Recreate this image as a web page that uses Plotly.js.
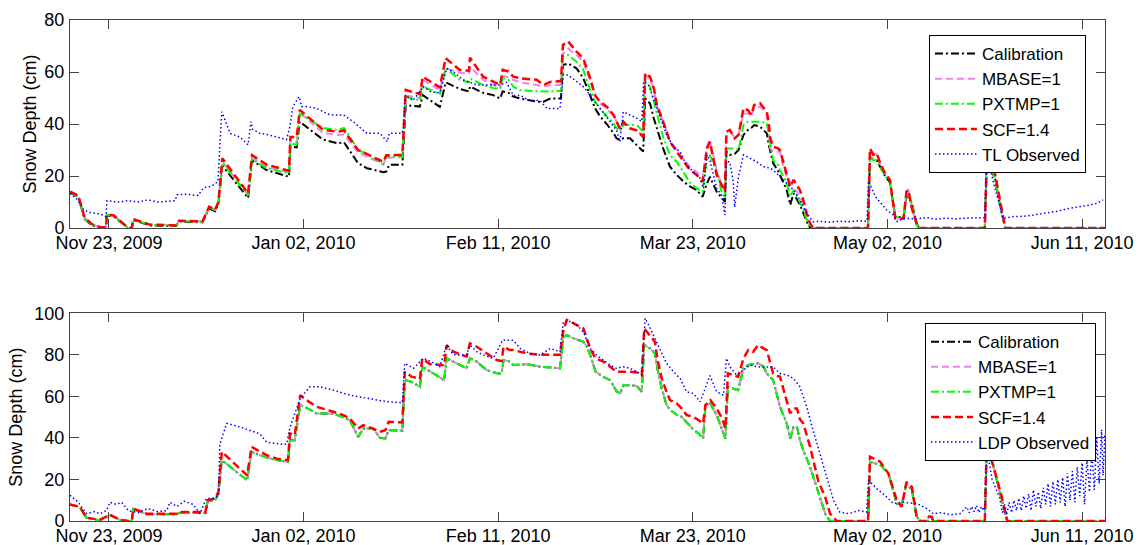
<!DOCTYPE html>
<html><head><meta charset="utf-8">
<script src="https://cdn.plot.ly/plotly-3.0.1.min.js"></script>
<style>html,body{margin:0;padding:0;background:#fff}#chart{width:1139px;height:545px}</style>
</head><body><div id="chart"></div>
<script>
// Day offsets are counted from Nov 23, 2009 (day 0)
const TICK_DAYS = [0, 40, 80, 120, 160, 200];
const TICK_LABELS = ['Nov 23, 2009', 'Jan 02, 2010', 'Feb 11, 2010', 'Mar 23, 2010', 'May 02, 2010', 'Jun 11, 2010'];
const X_RANGE_DAYS = [-8, 204.7];
const SERIES_NAMES = ['Calibration', 'MBASE=1', 'PXTMP=1', 'SCF=1.4'];
const OBS_NAMES = ['TL Observed', 'LDP Observed'];

// ---------- Top panel (TL) ----------
const TOP_DAYS = [-8,-6.3,-5,-3.5,-1.8,-0.6,-0.4,1,3.8,4,4.7,5,8.4,13.8,14.4,19.2,20.6,21.8,22.5,23.3,28.6,29.4,32.4,37,37.3,38.6,39.2,42.7,44,47,48.3,51.2,53,56.4,57,57.6,60.3,61,63.9,64.5,68,69.2,72.1,74,74.2,76.9,79,80.4,80.9,82.1,83.1,84.5,87.9,89.3,90.7,92.9,93.3,94.4,96.1,97.5,98.2,98.9,99.9,100.9,102.3,103.7,104.3,105,105.7,107.1,108.5,109.8,110.2,111.2,112,112.6,113.9,115.3,116.7,118.1,119.4,120.8,122,122.9,123.5,124.9,125.9,126.6,126.9,127.6,128.6,129.4,130.4,131.3,132,132.6,133.8,135.2,135.6,135.9,136.5,137.5,137.9,138.6,139.3,140,140.7,142,142.7,143.4,144.1,144.7,156,156.4,157.1,157.8,158.5,159.5,160.5,161.2,161.6,163.3,163.9,164.3,165,166,166.4,180,180.4,181.1,182.1,183.1,184.2,204.7];
const TOP_SCF = [14,12.5,4,1.5,0.3,0.3,5.2,4.8,0.3,0,0,3.4,1.3,1,2.8,2.5,8.2,7,10,26.8,13.3,28,24.4,22,35,35,45.4,39.6,37.8,37,37.5,30,28.4,25.5,28,28,28.1,53.1,51.5,58.2,54.1,65.3,60.8,60.5,65.5,58.2,56.2,55,60.8,60.2,58.2,57.6,57,55,56.2,56.5,70.4,71.7,67.8,65.2,61.4,57.6,51.1,48.6,46.7,43.5,41,38.3,40.9,38.3,37.5,35,59.5,58.2,53.7,47.3,40.9,33.2,29.3,25.5,22.3,20.4,17.8,30.6,33.2,20.4,16.5,14,37,37.7,34.5,35.8,46,45.4,43.5,47.3,48,44.7,40.3,34.5,31.3,30.6,30,25.5,21,15.9,18.5,14.6,10.8,5.6,1.8,0,0,30.6,28.1,28.7,24.9,21,18.5,9.5,3.7,3.7,14,14.6,7.6,1.5,0,0,26,24,21,10.8,0,0];
const TOP_MBASE = [14,12.5,4,1.5,0.3,0.3,5.2,4.8,0.3,0,0,3.4,1.3,1,2.8,2.5,8,7,10,25.5,12.8,27,23.5,21.5,33.5,33,44.5,38.5,36.5,35.8,36,29,27.5,24.5,27,27,27.3,51,50,57,53,61.4,59.7,59.5,62,57,55,54,58.5,58,57,56,55,54.5,55,55,67,69,66.5,64,60,57,51,48,46,43,41,38.5,40,38.5,37.5,35.5,59,57.5,53,47,41,33.5,30,26.5,23.5,21.5,19,31.5,34,22,17,14.5,36,37,35,36,44,44,43,46,46.7,44.1,37,30.6,29.4,29.4,29.4,23.6,19.7,17.5,15.9,12.1,9,4.4,1.5,0,0,29.5,28.5,28.5,25,21,18.5,9.5,3.7,3.7,14,14.6,7.6,1.5,0,0,25.5,24,20.5,10.5,0,0];
const TOP_PXTMP = [13.5,12,3.5,1.2,0.3,0.3,5,4.6,0.3,0,0,3.3,1.2,1,2.7,2.4,8,6.8,10,25,12.5,26.5,23,21,32.6,32,44,40,38.5,37.7,38.5,30,28.5,24.5,27.5,27.5,27.5,50.5,49,54.5,51.5,61.4,57,56,57.5,55,53.8,53.5,57.6,57,54.4,53,52.5,52.5,52.5,52.8,65.9,66.5,64,60.8,57,53.1,48.5,46,43,40.3,38.5,37,39.6,39.6,39.6,37,56.3,54.3,48,44,35,28,25.5,21.5,17.5,15.2,14,26.8,28,21.7,14,11.4,30.6,30.6,30.6,30,39.6,40.9,40.9,40.9,40.9,40.3,36,31.9,26,24.3,22.3,20,17.2,12.1,14.6,10,7,3,0,0,0,27.4,26.2,26,23.5,20,17.8,9.5,4.4,4,12.1,12.5,9.5,1,0,0,24.5,23,19,9,0,0];
const TOP_CAL = [13.5,12,3.5,1,0.2,0.2,4.8,4.4,0.2,0,0,3.1,1,0.8,2.5,2.2,7.5,6.5,9,24,11.5,26,22.3,19.7,31.3,31,40.9,35.8,34,32.6,33,24.9,23,21.5,21.7,24.3,24.3,47.3,46.7,51.1,46.6,56,53.5,52.5,54.4,52,51.1,49.8,52.5,52,50.5,49.8,48.6,48.6,49.8,49.8,62.7,63.3,61.4,57.6,54,50.5,46,43,40,36.5,34.5,33.8,34.5,34.5,32,29.4,49.9,47.9,42,38.5,30.6,23.6,20.4,17.8,16,14.6,12,17.1,19.7,14,11.5,10.1,29.4,28.1,28.5,30,35.8,37.7,38.5,39.6,39,36.4,32,30,25,22,20.4,18,14.6,8.9,13.3,9,5.6,2.5,0,0,0,27.4,26.2,26,23.5,20,17.5,9.5,4.4,4,12,12,9.5,2,0,0,24.5,23,19,9,0,0];
const TOP_OBS_DAYS = [-8,-6.5,-5.2,-4,-2.5,-1.2,-0.6,-0.4,2,4,6,8,10,12,13.6,14,16,18.3,19.5,21,22.4,22.9,23.2,24.9,26.9,28.6,29.2,29.5,31,32.4,34.5,36.5,37.2,37.8,39.1,39.6,40.6,42.7,45.4,48.2,50.2,53,55.7,57.2,57.6,60.2,60.5,60.9,62.5,64.6,66,68,69.4,70.8,72.8,74.2,75.6,78.3,80.4,81.7,83.1,84.5,86.5,88.6,90,92.7,93.4,94.4,96.1,97.5,98.9,100.2,101.6,103,104.3,105,105.7,107.1,108.5,109.5,109.9,110.9,111.9,113.2,114.6,116,117.4,118.7,120.1,121.5,122.2,122.9,123.5,124.2,124.9,125.9,126.6,126.9,127.6,128.3,128.6,129.4,130.4,131.8,133.1,134.5,135.9,136.5,137.9,139.3,140.7,142,143.4,144.7,146,148,150,152,154,155.8,156.1,157.5,158.5,159.8,161.2,162,163.3,166,168,170,172,174,176,178,180,180.3,180.8,181.8,183.1,183.8,185.9,188,190,192,195,197.5,200,201.5,203,204.3];
const TOP_OBS = [13.3,11,7,6,5.6,5,4.4,10.5,10,10.5,10,10.8,10,10.3,10.5,12.8,13,12.5,15.5,16,17.8,35,44.7,36.4,35,32,40.9,38,36.4,36,35,34,39,46.7,50.5,46.7,46.7,46,43.5,43.5,40.9,36.4,36.4,33.2,36.4,36.4,38.1,51.1,49,54.4,52.5,52,61.4,60,57,56,55,55,55,56,51,51,49,49,46,46,59,58.8,56.3,54.3,51.1,48,44.7,40.9,37.7,33.2,44.7,43.5,42.2,41,56.3,55,49.9,43.5,35.8,31.3,29.3,24.2,21.7,19.1,15.2,28.1,26,20,15.2,12.7,5,25.5,25.5,17.8,8,20,28.1,26.8,25.5,23.6,23,22.3,19.7,17.2,14.6,10.8,5.6,2.4,2.6,2.2,2.6,2.4,2.8,2.6,18,12.1,10,7,5,2.5,3.7,3.5,4,3.4,3.8,3.5,3.8,4,4,22,26,17.2,8.2,3.7,4.4,4.5,5,5.6,6.5,7.6,8.2,8.8,9.5,10.8];

// ---------- Bottom panel (LDP) ----------
const BOT_DAYS = [-8,-6,-4.6,-1.9,0.2,2.3,3.9,4.7,5,7.8,13.9,14.6,19.4,19.8,20.3,21.8,22.5,23.2,28.4,29.3,32.4,34.5,36.8,37.2,38.2,39.3,40.6,42.7,46.1,48.2,49.5,51.2,52.3,54.3,55.7,56.8,57.5,60.3,60.8,62.2,63.9,64.4,66,68.9,69.4,70.8,73.5,74.2,75.6,77.6,79.7,80.7,81.1,82.4,83.1,85.9,88.6,92.7,93.4,94.1,95.5,97.5,98.2,98.9,100,101.6,103,104.3,105.1,105.7,107.1,108.5,109.5,110,111.2,112.2,112.7,113.6,114.6,115.3,116.7,117.7,118.7,120.1,121.2,122.1,122.6,123.6,124.9,126,126.7,127.2,128.3,129.3,130.4,131.4,132.4,133.4,134.5,135.2,136.5,137,137.9,139.3,140,140.7,141.4,142,142.7,144.1,145.8,147.2,148.2,149.6,156,156.4,158.5,160.2,161.9,162.9,163.9,165,166,166.7,168.2,168.5,169.1,169.4,180,180.4,181.8,183.5,184.6,204.7];
const BOT_SCF = [8,6.8,1.6,0.6,3,0.6,0,0,6,3.5,3.5,4.3,4.3,4,10,10.8,14,33.3,22,35.7,31.7,30,29.3,42.1,41.3,60.6,58.2,55,52.6,51,49.4,44.5,46.1,44.5,43,43.7,47.8,47.5,71.9,69.5,68.5,78.3,75.5,75,84.7,81.5,79.1,85.5,83.9,80.7,77.5,77,83.9,82.3,82.3,80.7,80,80,92,96.8,95.2,92.7,87.9,83.1,78.3,76.7,74.3,71.9,71.9,71.9,71.9,71.5,70.2,92.7,89.5,86.3,78.3,68.6,62.2,58.2,56.6,54.2,51,50.2,48.5,46.9,55.8,58.2,54.2,49.4,44.5,71.1,70.2,69.4,78.3,82.3,81.5,84.7,83.1,82.3,71,70,69.5,58,51.8,54.2,54.2,49,47,35.7,19,11.6,3.5,0,0,30.9,28.5,22.8,10,6.8,18.8,16.4,2,0,0,2,2,0,0,38,26,11.6,0,0];
const BOT_MBASE = [8,6.8,1.5,0.3,2.8,0.5,0,0,5.8,3.3,3.3,4,4,3.8,9.5,10,13,29.3,19.6,33.3,30.5,29.3,28.5,38.9,38.9,55.8,54.5,51.8,51.8,50,48.6,40.5,44.5,44.5,40,39.7,43.7,43.5,67.8,67,64.6,74.3,72,67.8,78.3,76.7,73.5,78.3,76.7,72.7,71.1,71,77.5,76.7,75.1,75.5,74.3,73.5,88.7,89.5,87.9,86.3,84,80,71.9,69.4,67.8,62.5,61.4,65.4,65.4,65,62.2,84.7,83.1,80.7,73.5,63.8,55.8,53.5,51.2,50.2,47.5,44,42.1,39.7,55.8,56.6,51,44.5,39.7,64.6,63.8,63,73.5,75.1,75.5,75.9,74.5,71,67.8,63,55,47,39.7,45.3,45.3,38.9,34,26,13.2,3.5,0,0,0,28.5,27,22.8,8.4,7.6,18,15,2,0,0,2,2,0,0,36,26,10,0,0];
const BOT_PXTMP = [8,6.8,1.5,0.3,2.8,0.5,0,0,5.8,3.3,3.3,4,4,3.8,9.5,10,13,29.3,19.6,33.3,30.5,29.3,28.5,38.9,38.9,55.8,54.5,51.8,51.8,50,48.6,40.5,44.5,44.5,40,39.7,43.7,43.5,67.8,67,64.6,74.3,72,67.8,78.3,76.7,73.5,78.3,76.7,72.7,71.1,71,77.5,76.7,75.1,75.5,74.3,73.5,88.7,89.5,87.9,86.3,84,80,71.9,69.4,67.8,62.5,61.4,65.4,65.4,65,62.2,84.7,83.1,80.7,73.5,63.8,55.8,53.5,51.2,50.2,47.5,44,42.1,39.7,55.8,56.6,51,44.5,39.7,64.6,63.8,63,73.5,75.1,75.5,75.9,74.5,71,67.8,63,55,47,39.7,45.3,45.3,38.9,34,26,13.2,3.5,0,0,0,28.5,27,22.8,8.4,7.6,18,15,2,0,0,2,2,0,0,36,26,10,0,0];
const BOT_CAL = [8,6.8,1.5,0.3,2.8,0.5,0,0,5.8,3.3,3.3,4,4,3.8,9.5,10,13,29.3,19.6,33.3,30.5,29.3,28.5,38.9,38.9,55.8,54.5,51.8,51.8,50,48.6,40.5,44.5,44.5,40,39.7,43.7,43.5,67.8,67,64.6,74.3,72,67.8,78.3,76.7,73.5,78.3,76.7,72.7,71.1,71,77.5,76.7,75.1,75.5,74.3,73.5,88.7,89.5,87.9,86.3,84,80,71.9,69.4,67.8,62.5,61.4,65.4,65.4,65,62.2,84.7,83.1,80.7,73.5,63.8,55.8,53.5,51.2,50.2,47.5,44,42.1,39.7,55.8,56.6,51,44.5,39.7,64.6,63.8,63,73.5,75.1,75.5,75.9,74.5,71,67.8,63,55,47,39.7,45.3,45.3,38.9,34,26,13.2,3.5,0,0,0,28.5,27,22.8,8.4,7.6,18,15,2,0,0,2,2,0,0,36,26,10,0,0];
const BOT_OBS_DAYS = [-8,-6.3,-4.6,-3,-1.9,-0.5,0.2,1.5,2.6,4,6,8,10,11.9,12.5,14,15.5,17.3,18.7,20,21.5,22.5,22.8,24.2,26.9,29.7,31,32.4,35.2,36.5,37.2,39.3,41.3,43.4,46.1,49.5,53,55.7,57.5,60.3,60.8,62.6,64.6,66,68,69.4,70.8,73.5,74.2,75.6,76.9,79,80.9,83.1,84.5,86.5,88.6,90.7,92.7,93.4,94.8,96.1,97.5,98.9,100.2,101.6,103,104.3,105.7,107.1,108.5,109.5,110.2,110.9,111.9,113.2,114.6,116,117.4,118.7,120.1,121.5,122.5,123.5,124.9,126.3,126.9,127.6,129,130.4,131.8,133.1,134.5,136.5,137.9,139.3,140.7,142,143.4,144.7,146.1,147.5,148.9,150.2,152,154,155.7,156.1,157.8,159.8,161.2,163,166,168.1,169.4,171,173,174.9,176.3,176.8,177.3,177.8,178.3,178.8,179.3,179.8,180.1,180.4,180.9,181.5,182.2,183.1,183.6,184.1,184.5,185,185.5,186,186.5,187,187.5,188,188.5,189,189.5,190,190.5,191,191.5,192,192.5,193,193.5,194,194.5,195,195.5,196,196.5,197,197.5,198,198.5,199,199.5,200,200.5,201,201.5,202,202.5,203,203.5,204,204.3,204.7];
const BOT_OBS = [12.4,9,3.5,4.5,3.5,5,9,8,9,5,4,6,4.5,5,9,7,9.5,8,3.5,10.8,11,12,37,47,45.3,43,42,38,37,37,45,59,64.6,64.6,63,60.6,59,58,57.4,57,75.9,73.5,78.3,77,74.3,84.7,80,79.9,84.7,81.5,80,78.3,87.1,87,83.1,80.7,79.9,83.1,81.5,96,96,94.4,91.1,83.1,79.9,77.5,75.1,73.5,74.3,73.5,71.9,70.2,97.6,94.4,89.5,83.1,75.9,71.9,68.6,62.2,61.4,57.4,64,70,62.2,60.6,78.3,74.3,70.2,72.7,75.1,74.3,74,74.3,71,70.3,68.6,64.6,55,43.7,32.5,21.2,10,4.3,3.5,5,4.3,19.6,15.6,11.6,8.4,9,8.4,6,3.5,4,3,3.5,6.8,4,7,4.5,7.5,4,7,5,8,35,28,20,16,11,4,8,3,9,4,10,5,11,5,12,6,13,5,15,7,14,6,16,8,18,7,19,8,20,9,21,7,23,10,24,9,26,12,28,8,30,14,34,15,40,18,44,22,42];

// ---------- helpers ----------
const DAY0 = Date.UTC(2009, 10, 23);
const toMs = d => DAY0 + d * 86400000;
const FONT = 'Liberation Sans, Arial, Helvetica, sans-serif';

const STYLES = [
  {color: '#000000', dash: '8px,3px,2px,3px', width: 2},
  {color: '#EE82EE', dash: '7px,4px', width: 2},
  {color: '#00FF00', dash: '8px,3px,2px,3px', width: 2},
  {color: '#FF0000', dash: '8px,4px', width: 2.5}
];
const OBS_STYLE = {color: '#0000FF', dash: '1.5px,2.5px', width: 1.5};

function panelTraces(days, seriesList, obsDays, obsVals, obsName, xa, ya, legendId) {
  const xs = days.map(toMs);
  const out = seriesList.map((vals, i) => ({
    x: xs, y: vals, type: 'scatter', mode: 'lines', name: SERIES_NAMES[i],
    line: STYLES[i], xaxis: xa, yaxis: ya, legend: legendId, hoverinfo: 'skip'
  }));
  out.push({
    x: obsDays.map(toMs), y: obsVals, type: 'scatter', mode: 'lines', name: obsName,
    line: OBS_STYLE, xaxis: xa, yaxis: ya, legend: legendId, hoverinfo: 'skip'
  });
  return out;
}

const traces = [].concat(
  panelTraces(TOP_DAYS, [TOP_CAL, TOP_MBASE, TOP_PXTMP, TOP_SCF], TOP_OBS_DAYS, TOP_OBS, OBS_NAMES[0], 'x', 'y', 'legend'),
  panelTraces(BOT_DAYS, [BOT_CAL, BOT_MBASE, BOT_PXTMP, BOT_SCF], BOT_OBS_DAYS, BOT_OBS, OBS_NAMES[1], 'x2', 'y2', 'legend2')
);

const axisCommon = {
  showline: true, linecolor: '#444', linewidth: 1, mirror: 'ticks',
  ticks: 'inside', ticklen: 9, tickcolor: '#444', tickwidth: 1,
  showgrid: false, zeroline: false,
  tickfont: {family: FONT, size: 18, color: '#000'}
};
const xCommon = Object.assign({}, axisCommon, {
  type: 'date', range: X_RANGE_DAYS.map(toMs),
  tickmode: 'array', tickvals: TICK_DAYS.map(toMs), ticktext: TICK_LABELS,
  ticklabelstandoff: -2
});
const legendCommon = {
  xanchor: 'right', yanchor: 'top', bgcolor: '#ffffff', bordercolor: '#000', borderwidth: 1,
  font: {family: FONT, size: 17, color: '#000'}, tracegroupgap: 0, traceorder: 'normal',
  itemwidth: 42
};

const layout = {
  width: 1139, height: 545,
  margin: {l: 70, r: 34, t: 20, b: 24, pad: 0},
  paper_bgcolor: '#fff', plot_bgcolor: '#fff',
  showlegend: true,
  font: {family: FONT, size: 18, color: '#000'},
  xaxis: Object.assign({}, xCommon, {domain: [0, 1], anchor: 'y'}),
  yaxis: Object.assign({}, axisCommon, {domain: [0.5848, 1], anchor: 'x', range: [0, 80], dtick: 20, tick0: 0,
    ticklabelstandoff: 1,
    title: {text: 'Snow Depth (cm)', font: {family: FONT, size: 18, color: '#000'}, standoff: 3}}),
  xaxis2: Object.assign({}, xCommon, {domain: [0, 1], anchor: 'y2'}),
  yaxis2: Object.assign({}, axisCommon, {domain: [0, 0.4146], anchor: 'x2', range: [0, 100], dtick: 20, tick0: 0,
    ticklabelstandoff: 1,
    title: {text: 'Snow Depth (cm)', font: {family: FONT, size: 18, color: '#000'}, standoff: 7}}),
  legend: Object.assign({}, legendCommon, {x: 0.9816, y: 0.97}),
  legend2: Object.assign({}, legendCommon, {x: 0.9913, y: 0.395})
};

Plotly.newPlot('chart', traces, layout, {staticPlot: true, displayModeBar: false});
</script>
</body></html>
